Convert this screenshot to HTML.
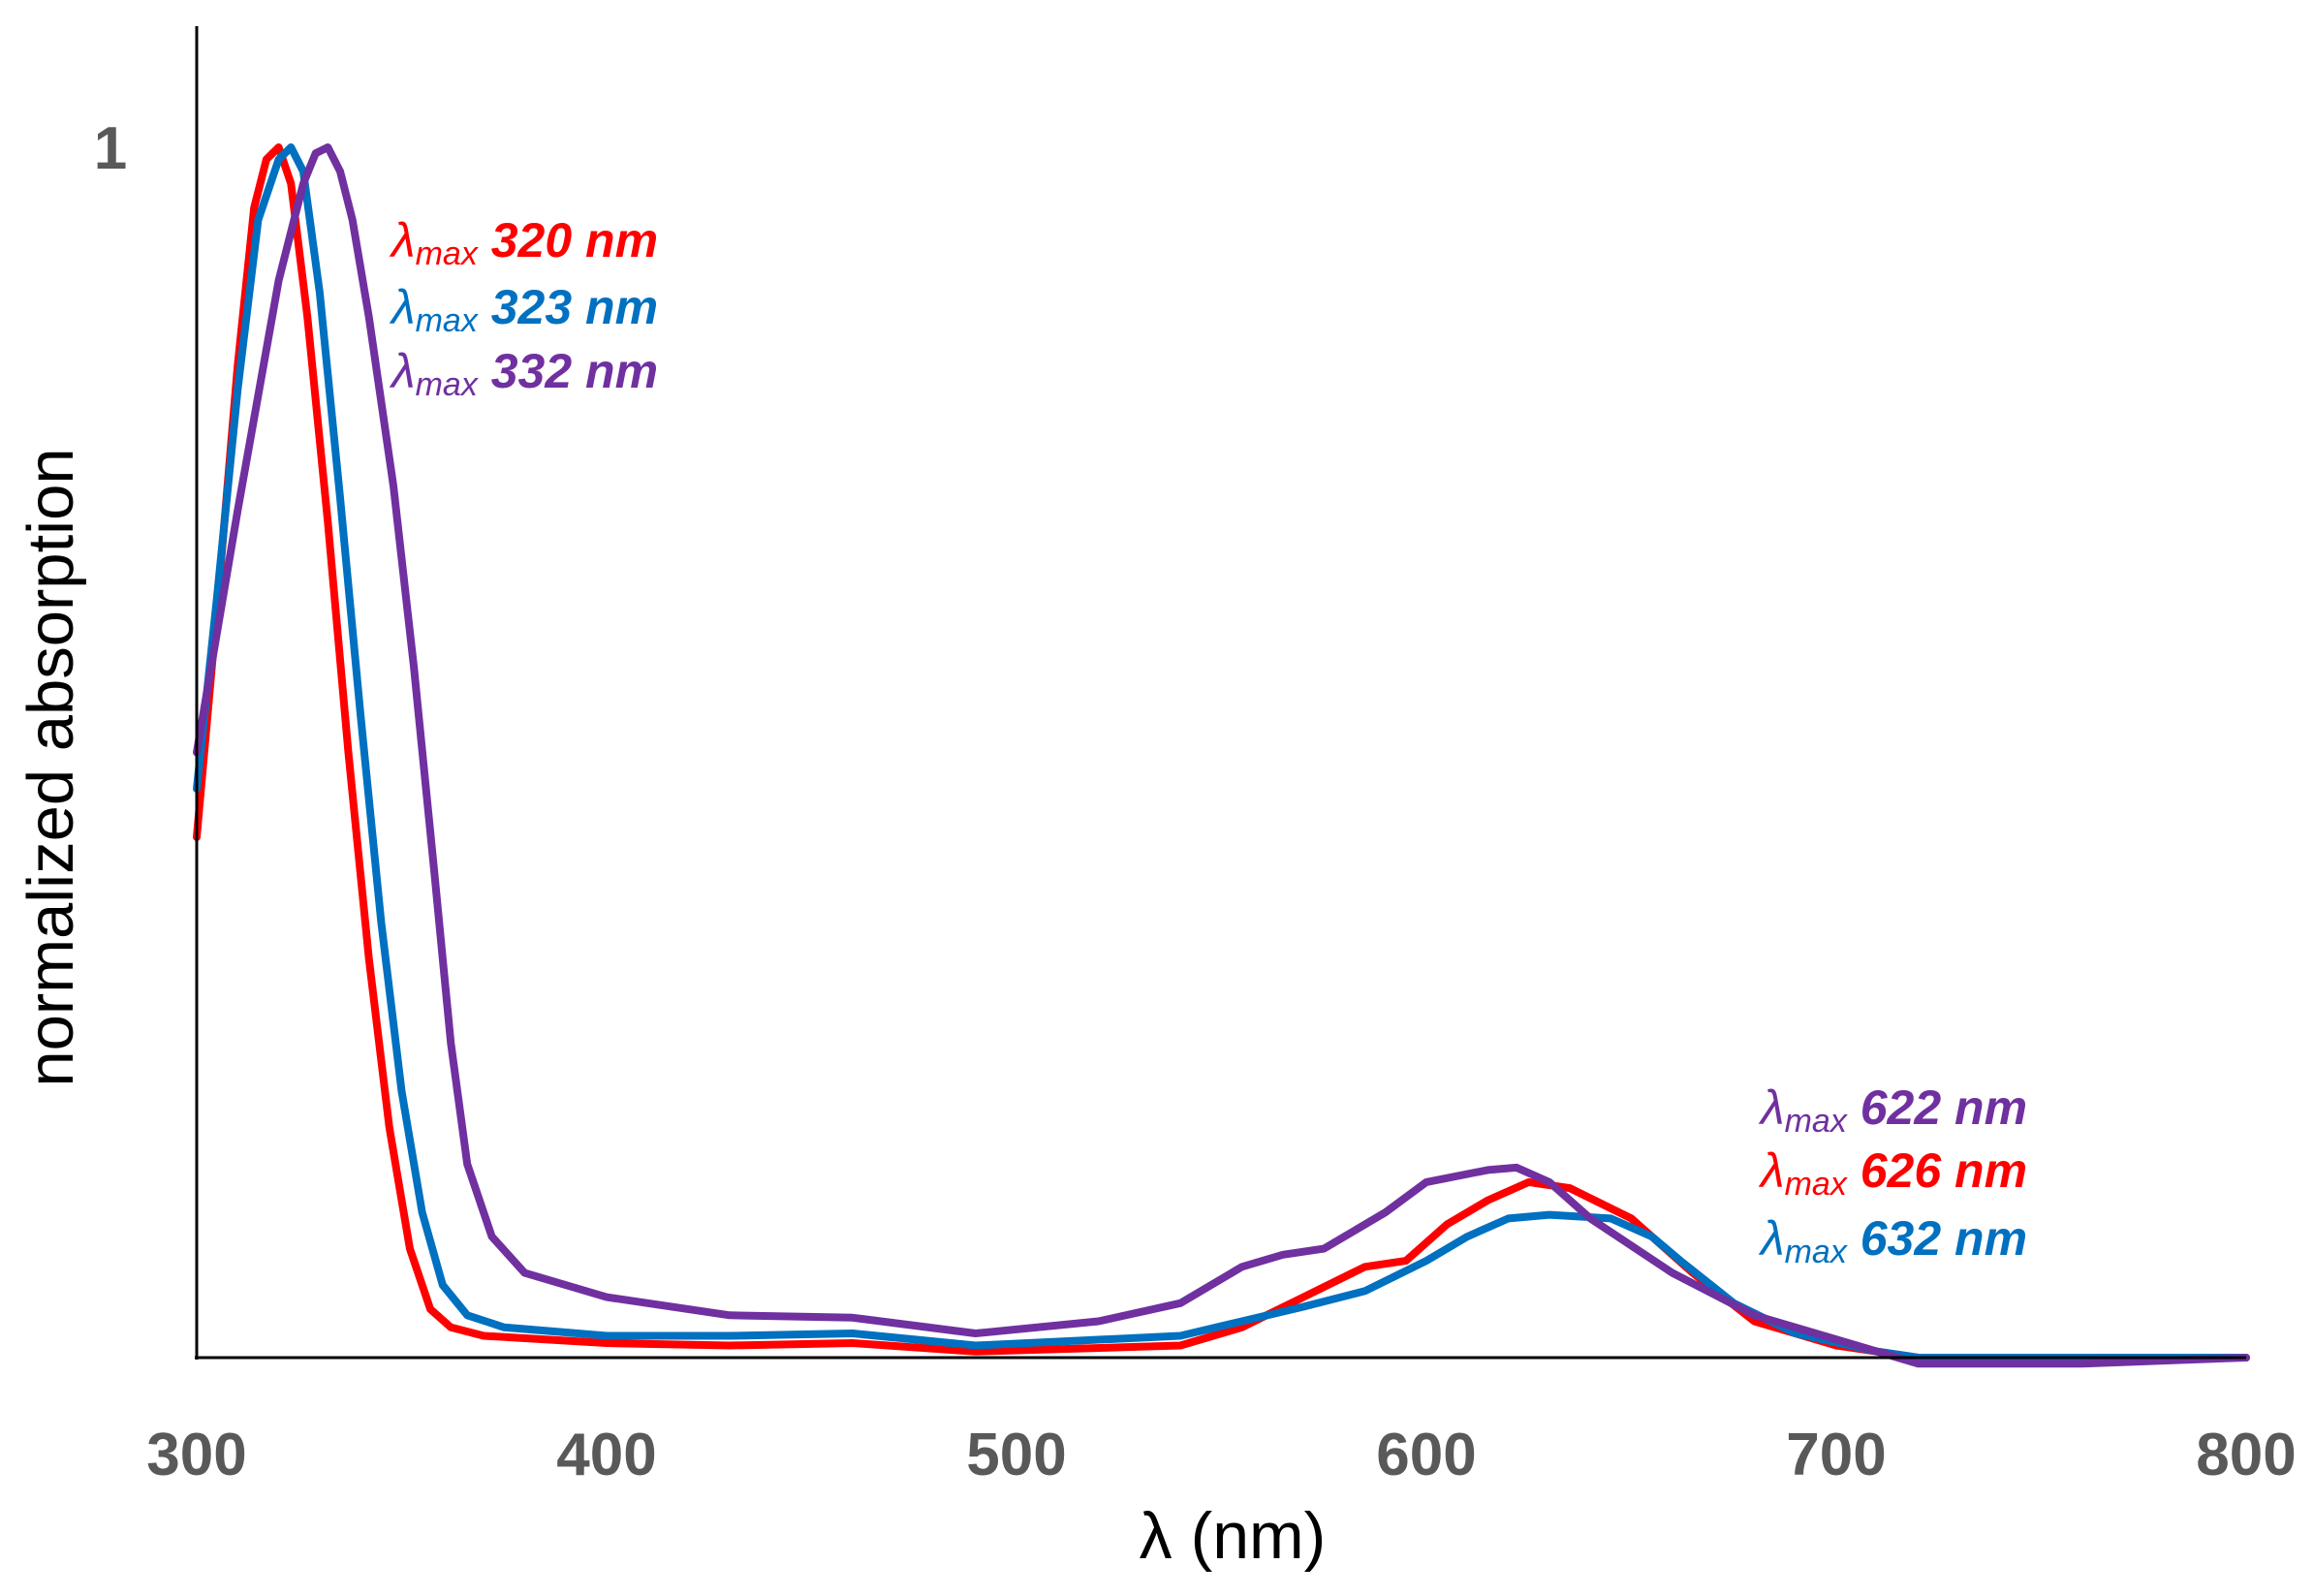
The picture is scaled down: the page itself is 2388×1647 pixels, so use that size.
<!DOCTYPE html>
<html><head><meta charset="utf-8"><style>
html,body{margin:0;padding:0;background:#fff}
svg{display:block}
</style></head><body>
<svg width="2388" height="1647" viewBox="0 0 2388 1647" xmlns="http://www.w3.org/2000/svg">
<g fill="none" stroke-linejoin="round" stroke-linecap="round" transform="translate(203,1401) scale(4.23,-1249)">
<polyline vector-effect="non-scaling-stroke" stroke="#ff0000" stroke-width="8" points="0,0.43 5,0.62 10,0.82 14,0.95 17,0.99 20,1.0 23,0.97 27,0.86 32,0.69 37,0.5 42,0.33 47,0.19 52,0.09 57,0.04 62,0.025 70,0.018 100,0.012 130,0.01 160,0.012 190,0.005 240,0.01 255,0.025 270,0.05 285,0.075 295,0.08 305,0.11 315,0.13 325,0.145 335,0.14 350,0.115 365,0.07 380,0.03 400,0.01 420,0.0 500,0"/>
<polyline vector-effect="non-scaling-stroke" stroke="#0070c0" stroke-width="8" points="0,0.47 5,0.63 10,0.8 15,0.94 20,0.99 23,1.0 26,0.98 30,0.88 35,0.71 40,0.53 45,0.36 50,0.22 55,0.12 60,0.06 66,0.035 75,0.025 100,0.018 130,0.018 160,0.02 190,0.01 240,0.018 255,0.03 270,0.042 285,0.055 300,0.08 310,0.1 320,0.115 330,0.118 345,0.115 355,0.1 362,0.08 375,0.045 390,0.02 410,0.005 420,0 500,0"/>
<polyline vector-effect="non-scaling-stroke" stroke="#7030a0" stroke-width="8" points="0,0.5 10,0.7 20,0.89 26,0.97 29,0.995 32,1.0 35,0.98 38,0.94 42,0.86 48,0.72 53,0.57 58,0.4 62,0.26 66,0.16 72,0.1 80,0.07 100,0.05 130,0.035 160,0.033 190,0.02 220,0.03 240,0.045 255,0.075 265,0.085 275,0.09 290,0.12 300,0.145 315,0.155 322,0.157 330,0.145 340,0.115 360,0.07 380,0.035 400,0.015 420,-0.005 460,-0.005 500,0"/>
</g>
<line x1="203" y1="27" x2="203" y2="1403" stroke="#000" stroke-width="3"/>
<line x1="201" y1="1401" x2="2318" y2="1401" stroke="#000" stroke-width="3"/>
<g font-family="Liberation Sans, sans-serif" font-weight="bold" font-size="62" fill="#595959" text-anchor="middle">
<text x="114" y="174">1</text>
<text x="203" y="1522">300</text>
<text x="626" y="1522">400</text>
<text x="1049" y="1522">500</text>
<text x="1472" y="1522">600</text>
<text x="1895" y="1522">700</text>
<text x="2318" y="1522">800</text>
</g>
<text x="1272" y="1608" font-family="Liberation Sans, sans-serif" font-size="68" fill="#000" text-anchor="middle">λ (nm)</text>
<text transform="translate(75,792) rotate(-90)" font-family="Liberation Sans, sans-serif" font-size="67" fill="#000" text-anchor="middle">normalized absorption</text>
<g font-family="Liberation Sans, sans-serif" font-style="italic" font-size="50">
<g fill="#ff0000"><text x="404" y="265">λ<tspan font-size="34" dy="8">max</tspan><tspan dy="-8" font-weight="bold"> 320 nm</tspan></text></g>
<g fill="#0070c0"><text x="404" y="334">λ<tspan font-size="34" dy="8">max</tspan><tspan dy="-8" font-weight="bold"> 323 nm</tspan></text></g>
<g fill="#7030a0"><text x="404" y="400">λ<tspan font-size="34" dy="8">max</tspan><tspan dy="-8" font-weight="bold"> 332 nm</tspan></text></g>
<g fill="#7030a0"><text x="1817" y="1160">λ<tspan font-size="34" dy="8">max</tspan><tspan dy="-8" font-weight="bold"> 622 nm</tspan></text></g>
<g fill="#ff0000"><text x="1817" y="1225">λ<tspan font-size="34" dy="8">max</tspan><tspan dy="-8" font-weight="bold"> 626 nm</tspan></text></g>
<g fill="#0070c0"><text x="1817" y="1295">λ<tspan font-size="34" dy="8">max</tspan><tspan dy="-8" font-weight="bold"> 632 nm</tspan></text></g>
</g>
</svg>
</body></html>
